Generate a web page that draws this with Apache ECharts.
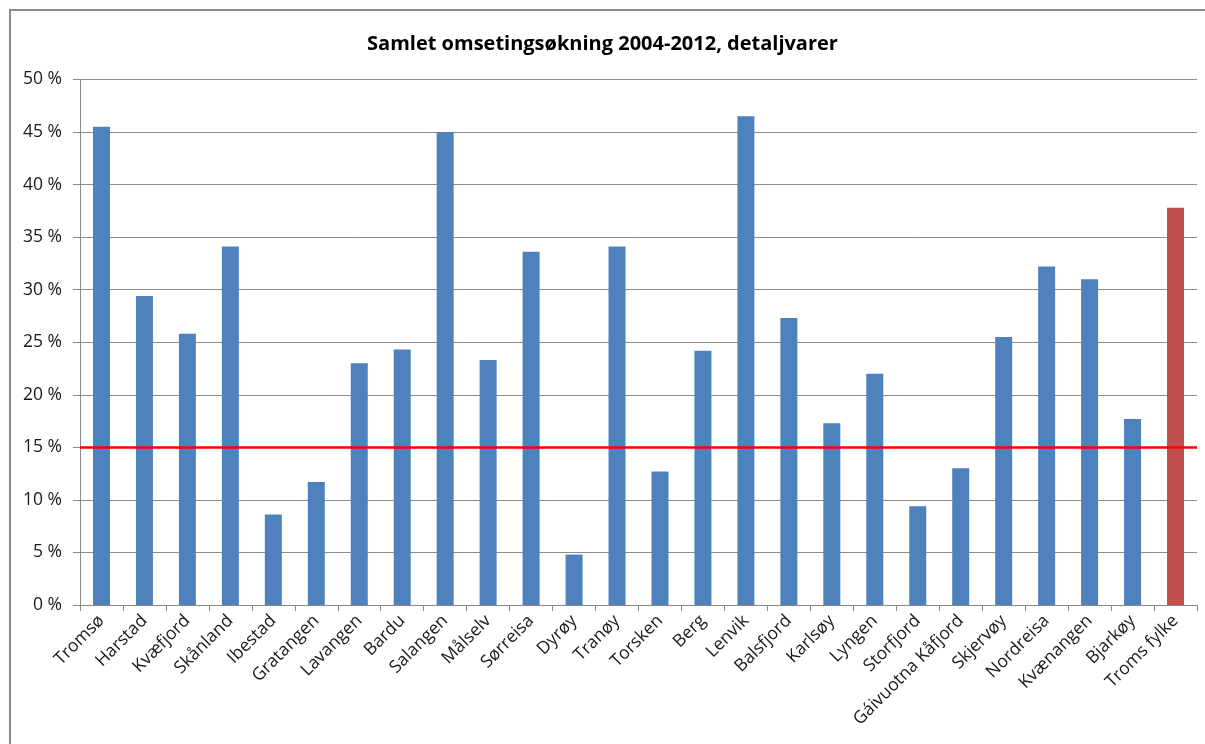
<!DOCTYPE html>
<html>
<head>
<meta charset="utf-8">
<script src="https://cdn.jsdelivr.net/npm/echarts@6/dist/echarts.min.js"></script>
<style>
  html, body { margin: 0; padding: 0; background: #fff; }
  #chart { width: 1205px; height: 744px; }
</style>
</head>
<body>
<div id="chart"></div>
<script>
// Kommuner i Troms, samlet omsetningsøkning i detaljvarer 2004-2012 (prosent)
const municipalities = ['Tromsø', 'Harstad', 'Kvæfjord', 'Skånland', 'Ibestad', 'Gratangen', 'Lavangen', 'Bardu', 'Salangen', 'Målselv', 'Sørreisa', 'Dyrøy', 'Tranøy', 'Torsken', 'Berg', 'Lenvik', 'Balsfjord', 'Karlsøy', 'Lyngen', 'Storfjord', 'Gáivuotna Kåfjord', 'Skjervøy', 'Nordreisa', 'Kvænangen', 'Bjarkøy', 'Troms fylke'];
const growthPct = [45.5, 29.4, 25.8, 34.1, 8.6, 11.7, 23.0, 24.3, 45.0, 23.3, 33.6, 4.8, 34.1, 12.7, 24.2, 46.5, 27.3, 17.3, 22.0, 9.4, 13.0, 25.5, 32.2, 31.0, 17.7, 37.8];
const countyName = 'Troms fylke';
const referenceLine = 15;
const yTicks = { min: 0, max: 50, step: 5 };

const FONT = '"Open Sans", Lato, sans-serif';
const chart = echarts.init(document.getElementById('chart'));

const barData = municipalities.map((name, i) => ({
  value: growthPct[i],
  itemStyle: { color: name === countyName ? '#c0504d' : '#4f81bd' }
}));

chart.setOption({
  animation: false,
  textStyle: { fontFamily: FONT },
  title: {
    text: 'Samlet omsetingsøkning 2004-2012, detaljvarer',
    left: 'center',
    top: 29,
    textStyle: { fontSize: 20, fontWeight: 'bold', color: '#000', fontFamily: FONT }
  },
  graphic: [{
    type: 'rect',
    shape: { x: 10, y: 10, width: 1300, height: 800 },
    style: { fill: 'none', stroke: '#8c8c8c', lineWidth: 2 },
    silent: true,
    z: -1
  }],
  grid: { left: 80, right: 8, top: 79.5, bottom: 139, containLabel: false },
  xAxis: {
    type: 'category',
    data: municipalities,
    boundaryGap: true,
    axisLine: { lineStyle: { color: '#888', width: 1 } },
    axisTick: { show: true, alignWithLabel: false, length: 6, lineStyle: { color: '#888' } },
    axisLabel: { rotate: 45, interval: 0, fontSize: 17.5, color: '#1a1a1a', margin: 13, fontFamily: FONT }
  },
  yAxis: {
    type: 'value',
    min: yTicks.min,
    max: yTicks.max,
    interval: yTicks.step,
    axisLine: { show: true, lineStyle: { color: '#888', width: 1 } },
    axisTick: { show: true, length: 7, lineStyle: { color: '#888' } },
    splitLine: { lineStyle: { color: '#8c8c8c', width: 1 } },
    axisLabel: { fontSize: 17.5, color: '#1a1a1a', margin: 18, fontFamily: FONT, formatter: v => v + ' %' }
  },
  series: [{
    type: 'bar',
    data: barData,
    barWidth: 17,
    markLine: {
      silent: true,
      symbol: 'none',
      label: { show: false },
      lineStyle: { color: '#ff0000', width: 2.5, type: 'solid' },
      data: [{ yAxis: referenceLine }]
    }
  }]
});
</script>
</body>
</html>
